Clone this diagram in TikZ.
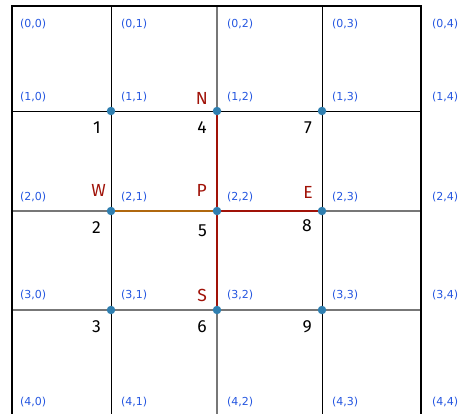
\documentclass[tikz,border=0pt]{standalone}
\usepackage{fontspec}
\setmainfont{Fira Sans}
\newfontfamily\lblfont{DejaVu Sans}
\definecolor{lblblue}{HTML}{2456E0}
\definecolor{dotblue}{HTML}{2F7FB0}
\definecolor{pathred}{HTML}{A01208}
\definecolor{pathorange}{HTML}{B0680F}
\definecolor{gridgray}{HTML}{777777}
\begin{document}
\begin{tikzpicture}[x=1pt,y=-1pt,
  coordlbl/.style={font=\lblfont\fontsize{11}{13}\selectfont, text=lblblue, anchor=west, inner sep=0pt},
  numlbl/.style={font=\fontsize{17.5}{20}\selectfont, text=black, anchor=east, inner sep=0pt},
  dirlbl/.style={font=\fontsize{17.5}{20}\selectfont, text=pathred, anchor=east, inner sep=0pt},
  dotnode/.style={circle, fill=dotblue, minimum size=8.5pt, inner sep=0pt},
  thinblack/.style={black, line width=0.9pt},
  thingray/.style={gridgray, line width=1.1pt},
  border/.style={black, line width=2.4pt},
  pathline/.style={line width=2.6pt}]
\useasboundingbox (0,0) rectangle (460,413);
% grid coordinates
\coordinate (c11) at (111,111); \coordinate (c12) at (217,111); \coordinate (c13) at (322,111);
\coordinate (c21) at (111,211); \coordinate (c22) at (217,211); \coordinate (c23) at (322,211);
\coordinate (c31) at (111,310); \coordinate (c32) at (217,310); \coordinate (c33) at (322,310);
\coordinate (tl) at (12,6); \coordinate (tr) at (421,6);
\coordinate (bl) at (12,416); \coordinate (br) at (421,416);
% interior lines
\draw[thinblack] (111,6) -- (111,416);
\draw[thingray] (217,6) -- (217,416);
\draw[thinblack] (322,6) -- (322,416);
\draw[thinblack] (12,111) -- (421,111);
\draw[thingray] (12,211) -- (421,211);
\draw[thingray] (12,310) -- (421,310);
% border
\draw[border] (bl) -- (tl) -- (tr) -- (br);
% path lines
\draw[pathline, pathorange] (c21) -- (c22);
\draw[pathline, pathred] (c12) -- (c32);
\draw[pathline, pathred] (c22) -- (c23);
% dots
\foreach \r in {1,2,3}{\foreach \c in {1,2,3}{\node[dotnode] (d\r\c) at (c\r\c) {};}}
% coordinate labels
\foreach \c/\x in {0/20,1/121,2/227,3/332,4/432}{
  \node[coordlbl] (l0\c) at (\x,24) {(0,\c)};
  \node[coordlbl] (l1\c) at (\x,97) {(1,\c)};
  \node[coordlbl] (l2\c) at (\x,197) {(2,\c)};
  \node[coordlbl] (l3\c) at (\x,295) {(3,\c)};
  \node[coordlbl] (l4\c) at (\x,402) {(4,\c)};
}
% numbers
\node[numlbl] (n1) at (101,128) {1};
\node[numlbl] (n4) at (207,128) {4};
\node[numlbl] (n7) at (312,128) {7};
\node[numlbl] (n2) at (101,228) {2};
\node[numlbl] (n5) at (207,231) {5};
\node[numlbl] (n8) at (312,226) {8};
\node[numlbl] (n3) at (101,327) {3};
\node[numlbl] (n6) at (207,327) {6};
\node[numlbl] (n9) at (312,327) {9};
% directions
\node[dirlbl] (N) at (208,98) {N};
\node[dirlbl] (W) at (106,190) {W};
\node[dirlbl] (P) at (207,190) {P};
\node[dirlbl] (E) at (313,192) {E};
\node[dirlbl] (S) at (207,295) {S};
\end{tikzpicture}
\end{document}
